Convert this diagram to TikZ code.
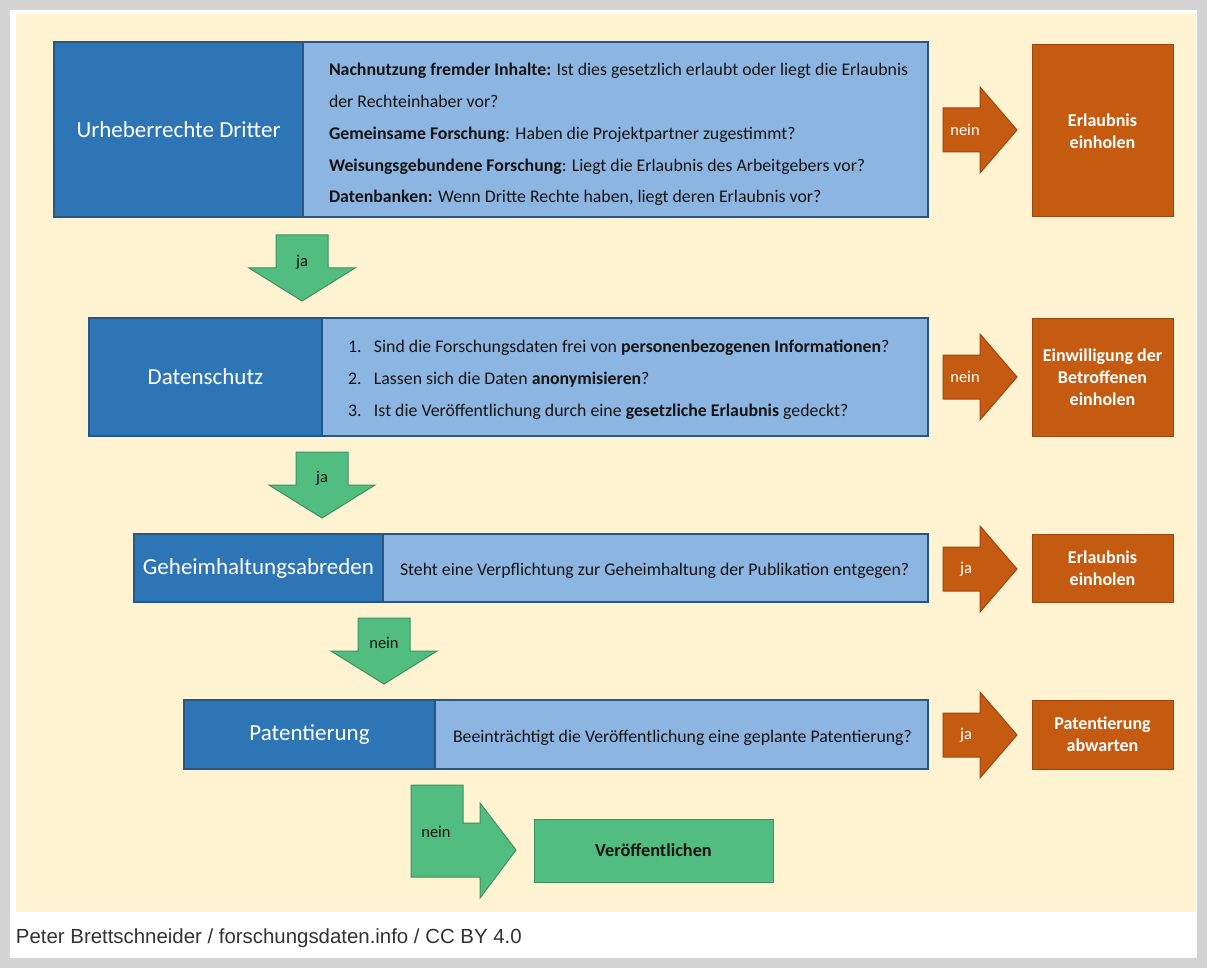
\documentclass[tikz,border=0pt]{standalone}
\usepackage{fontspec}
\setmainfont{Carlito}
\newfontfamily\creditfont{Liberation Sans}
\usepackage{xcolor}
\usetikzlibrary{positioning}

\definecolor{framegray}{HTML}{D3D3D3}
\definecolor{cream}{HTML}{FFF3D1}
\definecolor{bluedark}{HTML}{2E75B6}
\definecolor{blueline}{HTML}{24568A}
\definecolor{bluelight}{HTML}{8DB5E2}
\definecolor{orangefill}{HTML}{C55A11}
\definecolor{orangeline}{HTML}{9E4610}
\definecolor{greenfill}{HTML}{52BD80}
\definecolor{greenline}{HTML}{3D9162}
\definecolor{bodytext}{HTML}{141414}
\definecolor{credittext}{HTML}{333333}

\begin{document}
\begin{tikzpicture}[x=1pt, y=-1pt, outer sep=0pt,
  titlebox/.style={draw=blueline, fill=bluedark, line width=1.2pt, text=white, anchor=north west, inner sep=0pt, font=\fontsize{23}{27}\selectfont},
  askbox/.style={draw=blueline, fill=bluelight, line width=1.2pt, anchor=north west, inner sep=0pt},
  asktext/.style={anchor=west, align=left, inner sep=0pt, text=bodytext, font=\fontsize{17.8}{31.8}\selectfont},
  resbox/.style={draw=orangeline, fill=orangefill, line width=1pt, text=white, anchor=north west, align=center, inner sep=0pt, font=\bfseries\fontsize{18}{22}\selectfont},
  okbox/.style={draw=greenline, fill=greenfill, line width=1pt, text=bodytext, anchor=north west, inner sep=0pt, font=\bfseries\fontsize{18.3}{22}\selectfont},
  orarr/.style={draw=orangeline, fill=orangefill, line width=1pt},
  grarr/.style={draw=greenline, fill=greenfill, line width=1pt},
  arrlab/.style={inner sep=0pt, font=\fontsize{16.5}{20}\selectfont}]
\useasboundingbox (0,0) rectangle (1207,968);
% frame
\fill[framegray] (0,0) rectangle (1207,968);
\fill[white] (10,10) rectangle (1197,958);
\fill[cream] (16,14) rectangle (1196,912);

% row 1
\node[titlebox, minimum width=249pt, minimum height=175pt] (urh) at (54,42) {Urheberrechte Dritter};
\node[askbox, minimum width=625pt, minimum height=175pt] (urhq) at (urh.north east) {};
\node[asktext, right=26pt of urhq.west, yshift=-5pt] (urhtxt) {\textbf{Nachnutzung fremder Inhalte:} Ist dies gesetzlich erlaubt oder liegt die Erlaubnis\\
der Rechteinhaber vor?\\
\textbf{Gemeinsame Forschung}: Haben die Projektpartner zugestimmt?\\
\textbf{Weisungsgebundene Forschung}: Liegt die Erlaubnis des Arbeitgebers vor?\\
\textbf{Datenbanken:} Wenn Dritte Rechte haben, liegt deren Erlaubnis vor?};
\node[resbox, minimum width=141pt, minimum height=172pt] (urhres) at (1032,45) {Erlaubnis\\einholen};

% row 2
\node[titlebox, minimum width=233pt, minimum height=118pt] (daten) at (89,318) {Datenschutz};
\node[askbox, minimum width=606pt, minimum height=118pt] (datenq) at (daten.north east) {};
\node[asktext, right=26pt of datenq.west, yshift=-3pt, font=\fontsize{17.8}{32}\selectfont] (datentxt) {\makebox[26pt][l]{1.}Sind die Forschungsdaten frei von \textbf{personenbezogenen Informationen}?\\
\makebox[26pt][l]{2.}Lassen sich die Daten \textbf{anonymisieren}?\\
\makebox[26pt][l]{3.}Ist die Veröffentlichung durch eine \textbf{gesetzliche Erlaubnis} gedeckt?};
\node[resbox, minimum width=141pt, minimum height=118pt] (datenres) at (1032,318) {Einwilligung der\\Betroffenen\\einholen};

% row 3
\node[titlebox, minimum width=249pt, minimum height=68pt] (geheim) at (134,534) {Geheimhaltungsabreden};
\node[askbox, minimum width=545pt, minimum height=68pt] (geheimq) at (geheim.north east) {};
\node[asktext, right=17pt of geheimq.west, yshift=-3pt] (geheimtxt) {Steht eine Verpflichtung zur Geheimhaltung der Publikation entgegen?};
\node[resbox, minimum width=141pt, minimum height=68pt] (geheimres) at (1032,534) {Erlaubnis\\einholen};

% row 4
\node[titlebox, minimum width=251pt, minimum height=69pt] (patent) at (184,700) {Patentierung};
\node[askbox, minimum width=493pt, minimum height=69pt] (patentq) at (patent.north east) {};
\node[asktext, right=18pt of patentq.west, yshift=-3pt] (patenttxt) {Beeinträchtigt die Veröffentlichung eine geplante Patentierung?};
\node[resbox, minimum width=141pt, minimum height=69pt] (patentres) at (1032,700) {Patentierung\\abwarten};

% final
\node[okbox, minimum width=239pt, minimum height=63pt] (publ) at (534,819) {Veröffentlichen};

% nein/ja arrows to the right
\foreach \yy in {130, 377, 569, 735}{
  \draw[orarr, shift={(943,\yy)}] (0,-22) -- (37,-22) -- (37,-43) -- (74,0) -- (37,43) -- (37,22) -- (0,22) -- cycle;
}
\node[arrlab, text=white] (nein1) at (965,130) {nein};
\node[arrlab, text=white] (nein2) at (965,377) {nein};
\node[arrlab, text=white] (ja3) at (966,569) {ja};
\node[arrlab, text=white] (ja4) at (966,735) {ja};

% arrows down
\draw[grarr, shift={(302,235)}] (-26,0) -- (26,0) -- (26,33) -- (53,33) -- (0,66) -- (-53,33) -- (-26,33) -- cycle;
\draw[grarr, shift={(322,452)}] (-26,0) -- (26,0) -- (26,33) -- (53,33) -- (0,66) -- (-53,33) -- (-26,33) -- cycle;
\draw[grarr, shift={(384,618)}] (-26,0) -- (26,0) -- (26,33) -- (53,33) -- (0,66) -- (-53,33) -- (-26,33) -- cycle;
\node[arrlab, text=bodytext] (ja1) at (302,262) {ja};
\node[arrlab, text=bodytext] (ja2) at (322,478) {ja};
\node[arrlab, text=bodytext] (nein3) at (384,643) {nein};

% bent arrow to Veroeffentlichen
\draw[grarr] (411,785) -- (463,785) -- (463,823) -- (480,823) -- (480,803) -- (516,850) -- (480,898) -- (480,877) -- (411,877) -- cycle;
\node[arrlab, text=bodytext] (nein4) at (436,832) {nein};

% credit line
\node[anchor=base west, inner sep=0pt, text=credittext, font=\creditfont\fontsize{20.4}{22}\selectfont] (credit) at (16,943) {Peter Brettschneider / forschungsdaten.info / CC BY 4.0};
\end{tikzpicture}
\end{document}
